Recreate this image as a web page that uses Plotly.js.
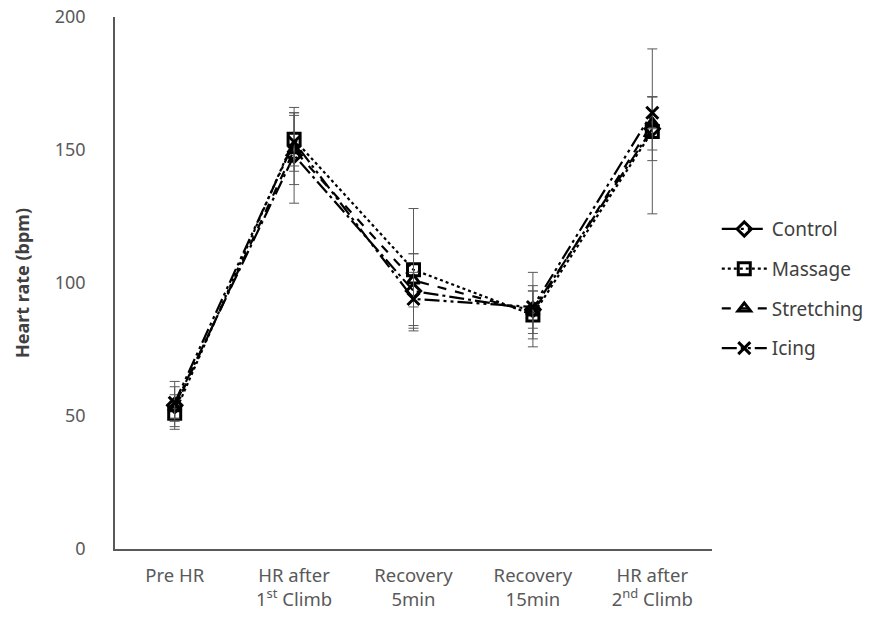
<!DOCTYPE html>
<html><head><meta charset="utf-8">
<script src="https://cdn.plot.ly/plotly-3.0.1.min.js"></script>
<style>body{margin:0;background:#fff}#c{width:881px;height:619px}</style>
</head><body><div id="c"></div>
<script>
const categories = ["Pre HR", "HR after<br>1<sup>st</sup> Climb", "Recovery<br>5min", "Recovery<br>15min", "HR after<br>2<sup>nd</sup> Climb"];
const controlMean = [54, 148, 97, 90, 158];
const controlSD = [9, 18, 14, 14, 12];
const massageMean = [51, 154, 105, 88, 157];
const massageSD = [5, 10, 23, 9, 31];
const stretchingMean = [53, 150, 101, 89, 160];
const stretchingSD = [5, 13, 10, 8, 10];
const icingMean = [55, 153, 94, 91, 164];
const icingSD = [6, 11, 10, 8, 6];

const errStyle = sd => ({type: "data", array: sd, visible: true, color: "#595959", thickness: 1, width: 5});
const traces = [
  {name: "Control", y: controlMean, sd: controlSD, dash: "15px,4px,3px,4px", symbol: "diamond-open", size: 11},
  {name: "Massage", y: massageMean, sd: massageSD, dash: "dot", symbol: "square-open", size: 12},
  {name: "Stretching", y: stretchingMean, sd: stretchingSD, dash: "dash", symbol: "triangle-up-open", size: 11},
  {name: "Icing", y: icingMean, sd: icingSD, dash: "15px,4px,3px,4px,3px,4px", symbol: "x-thin-open", size: 12}
].map(t => ({
  type: "scatter", mode: "lines+markers", name: t.name, legendgroup: t.name, x: categories, y: t.y,
  error_y: errStyle(t.sd),
  line: {color: "#000", width: 2.2, dash: t.dash},
  marker: {symbol: t.symbol, size: t.size, color: "#000", line: {color: "#000", width: 3}}
}));

const layout = {
  width: 881, height: 619,
  margin: {l: 115, r: 166, t: 17, b: 70},
  paper_bgcolor: "#fff", plot_bgcolor: "#fff",
  font: {family: "Noto Sans, Open Sans, sans-serif", color: "#595959", size: 18},
  showlegend: true,
  legend: {x: 1.008, y: 0.637, xanchor: "left", yanchor: "top", font: {size: 19, color: "#404040"}, tracegroupgap: 12, itemwidth: 45, bgcolor: "rgba(0,0,0,0)"},
  xaxis: {type: "category", showgrid: false, zeroline: false, showline: true, linecolor: "#595959", linewidth: 1.5, ticks: "outside", ticklen: 9, tickcolor: "rgba(0,0,0,0)", tickfont: {size: 18.5, color: "#595959"}, range: [-0.5, 4.5]},
  yaxis: {range: [0, 200], tickvals: [0, 50, 100, 150, 200], showgrid: false, zeroline: false, showline: true, linecolor: "#595959", linewidth: 1.5, ticks: "", ticklabelstandoff: 24,
    tickfont: {size: 18, color: "#595959"},
    title: {text: "Heart rate (bpm)", font: {size: 18, color: "#404040", weight: "bold"}, standoff: 20}}
};
Plotly.newPlot("c", traces, layout, {displayModeBar: false});
</script></body></html>
